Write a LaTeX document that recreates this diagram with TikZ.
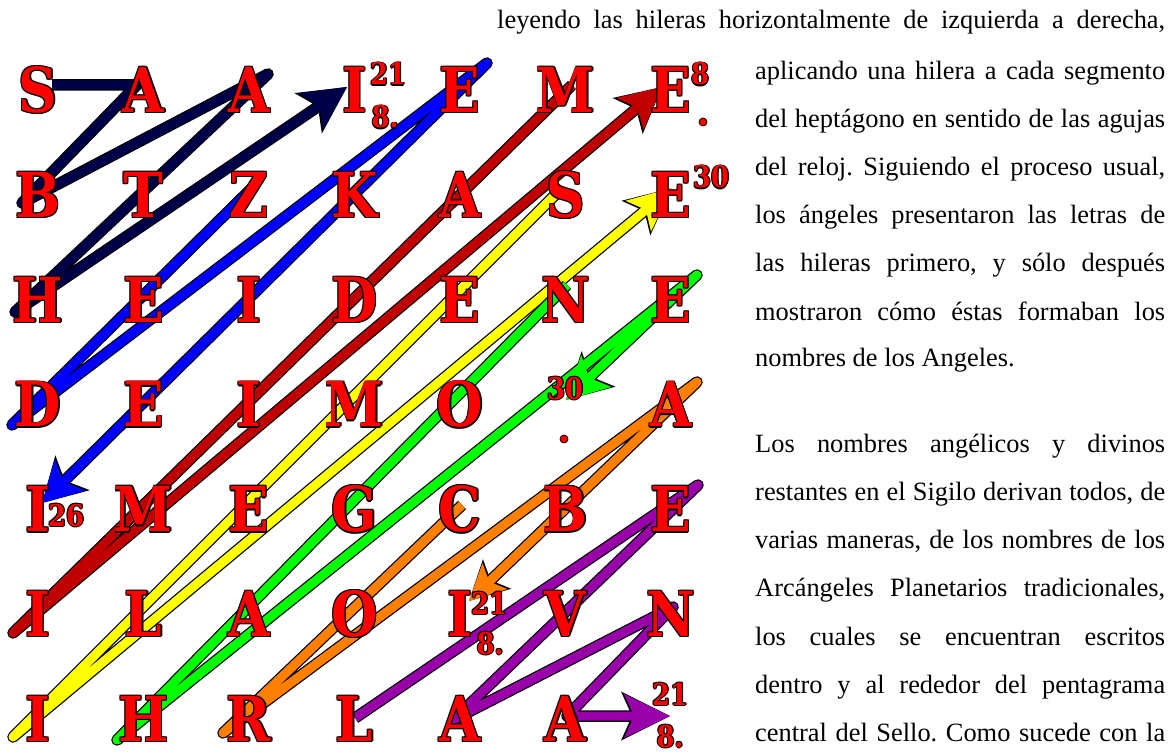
\documentclass[tikz,border=0pt]{standalone}
\usepackage{fontspec}
\setmainfont{Liberation Serif}
\newfontfamily\gridfont{DejaVu Serif}[FakeStretch=0.86]
\usetikzlibrary{arrows.meta}
\definecolor{cnavy}{RGB}{0,0,72}
\definecolor{cblue}{RGB}{0,0,255}
\definecolor{cred}{RGB}{192,0,0}
\definecolor{cyellow}{RGB}{255,255,0}
\definecolor{cgreen}{RGB}{0,255,0}
\definecolor{corange}{RGB}{255,128,0}
\definecolor{cpurple}{RGB}{153,0,170}
\newcommand\shadowcopy[3]{\rlap{\kern#1\raisebox{#2}{\color{black}#3}}}
\newcommand\redink[1]{\leavevmode
  \shadowcopy{-0.9pt}{0.9pt}{#1}\shadowcopy{0.9pt}{-0.9pt}{#1}%
  \shadowcopy{-0.9pt}{-0.9pt}{#1}\shadowcopy{0.9pt}{0.9pt}{#1}%
  \shadowcopy{1.3pt}{0pt}{#1}\shadowcopy{0pt}{-1.3pt}{#1}%
  \textcolor{red}{#1}}
\tikzset{
  glyph/.style={inner sep=0pt, text height=45pt, text depth=0pt, anchor=center,
    font=\gridfont\bfseries\fontsize{62}{62}\selectfont},
  digit/.style={inner sep=0pt, text height=22pt, text depth=0pt, anchor=center,
    font=\gridfont\bfseries\fontsize{30}{30}\selectfont},
  rim/.style={draw=black, line width=11.5pt, line join=round},
  band/.style={draw=#1, color=#1, line width=9pt, line join=round},
  txt/.style={anchor=base west, inner sep=0pt, font=\fontsize{26.4}{30}\selectfont},
  dotmark/.style={fill=red, draw=black, line width=0.8pt}
}
\frenchspacing
\begin{document}
\begin{tikzpicture}[x=1pt,y=-1pt]
\useasboundingbox (0,0) rectangle (1175,754);
\fill[white] (0,0) rectangle (1175,754);

% ---------- path vertices ----------
\coordinate (n1) at (52,85);  \coordinate (n2) at (137,85); \coordinate (n3) at (22,203);
\coordinate (n4) at (268,74); \coordinate (n5) at (15,312); \coordinate (n6) at (347,87);
\coordinate (b1) at (252,188); \coordinate (b2) at (12,425); \coordinate (b3) at (487,63); \coordinate (b4) at (42,503);
\coordinate (r1) at (572,85); \coordinate (r2) at (13,633); \coordinate (r3) at (662,87);
\coordinate (y1) at (557,193); \coordinate (y2) at (13,737); \coordinate (y3) at (672,188);
\coordinate (g1) at (567,285); \coordinate (g2) at (117,740); \coordinate (g3) at (697,275); \coordinate (g4) at (566,400);
\coordinate (o1) at (462,505); \coordinate (o2) at (223,733); \coordinate (o3) at (697,382); \coordinate (o4) at (469,601);
\coordinate (p1) at (355,718); \coordinate (p2) at (698,485); \coordinate (p3) at (453,720);
\coordinate (p4) at (673,607); \coordinate (p5) at (567,716); \coordinate (p6) at (670,716);

% ---------- navy ----------
\draw[rim,-{Stealth[length=47pt,width=49pt,inset=12pt,line width=0pt]}] (n1)--(n2)--(n3)--(n4)--(n5)--(n6);
\draw[band=cnavy,-{Stealth[length=44pt,width=44pt,inset=11pt,line width=0pt]}] (n1)--(n2)--(n3)--(n4)--(n5)--(n6);
% ---------- blue ----------
\draw[rim,-{Stealth[length=43pt,width=49pt,inset=11pt,line width=0pt]}] (b1)--(b2)--(b3)--(b4);
\draw[band=cblue,-{Stealth[length=40pt,width=44pt,inset=10pt,line width=0pt]}] (b1)--(b2)--(b3)--(b4);
% ---------- dark red ----------
\draw[rim,-{Stealth[length=45pt,width=47pt,inset=11pt,line width=0pt]}] (r1)--(r2)--(r3);
\draw[band=cred,-{Stealth[length=42pt,width=42pt,inset=10pt,line width=0pt]}] (r1)--(r2)--(r3);
% ---------- yellow ----------
\draw[rim,-{Stealth[length=47pt,width=45pt,inset=11pt,line width=0pt]}] (y1)--(y2)--(y3);
\draw[band=cyellow,-{Stealth[length=44pt,width=40pt,inset=10pt,line width=0pt]}] (y1)--(y2)--(y3);
% ---------- green ----------
\draw[rim,-{Stealth[length=45pt,width=49pt,inset=11pt,line width=0pt]}] (g1)--(g2)--(g3)--(g4);
\draw[band=cgreen,-{Stealth[length=42pt,width=44pt,inset=10pt,line width=0pt]}] (g1)--(g2)--(g3)--(g4);
% ---------- orange ----------
\draw[rim,-{Stealth[length=39pt,width=41pt,inset=9pt,line width=0pt]}] (o1)--(o2)--(o3)--(o4);
\draw[band=corange,-{Stealth[length=36pt,width=36pt,inset=8pt,line width=0pt]}] (o1)--(o2)--(o3)--(o4);
% ---------- purple ----------
\draw[rim,-{Stealth[length=49pt,width=49pt,inset=11pt,line width=0pt]}] (p1)--(p2)--(p3)--(p4)--(p5)--(p6);
\draw[band=cpurple,-{Stealth[length=46pt,width=44pt,inset=10pt,line width=0pt]}] (p1)--(p2)--(p3)--(p4)--(p5)--(p6);

% ---------- grid letters ----------
% row 1
\node[glyph] (L11) at (38,90) {\redink{S}};
\node[glyph] (L12) at (143.5,90) {\redink{A}};
\node[glyph] (L13) at (249,90) {\redink{A}};
\node[glyph] (L14) at (354.5,90) {\redink{I}};
\node[glyph] (L15) at (460,90) {\redink{E}};
\node[glyph] (L16) at (565.5,90) {\redink{M}};
\node[glyph] (L17) at (671,90) {\redink{E}};
% row 2
\node[glyph] (L21) at (38,194.8) {\redink{B}};
\node[glyph] (L22) at (143.5,194.8) {\redink{T}};
\node[glyph] (L23) at (249,194.8) {\redink{Z}};
\node[glyph] (L24) at (354.5,194.8) {\redink{K}};
\node[glyph] (L25) at (460,194.8) {\redink{A}};
\node[glyph] (L26) at (565.5,194.8) {\redink{S}};
\node[glyph] (L27) at (671,194.8) {\redink{E}};
% row 3
\node[glyph] (L31) at (38,299.6) {\redink{H}};
\node[glyph] (L32) at (143.5,299.6) {\redink{E}};
\node[glyph] (L33) at (249,299.6) {\redink{I}};
\node[glyph] (L34) at (354.5,299.6) {\redink{D}};
\node[glyph] (L35) at (460,299.6) {\redink{E}};
\node[glyph] (L36) at (565.5,299.6) {\redink{N}};
\node[glyph] (L37) at (671,299.6) {\redink{E}};
% row 4
\node[glyph] (L41) at (38,404.4) {\redink{D}};
\node[glyph] (L42) at (143.5,404.4) {\redink{E}};
\node[glyph] (L43) at (249,404.4) {\redink{I}};
\node[glyph] (L44) at (354.5,404.4) {\redink{M}};
\node[glyph] (L45) at (460,404.4) {\redink{O}};
\node[glyph] (L47) at (671,404.4) {\redink{A}};
% row 5
\node[glyph] (L51) at (38,509.2) {\redink{I}};
\node[glyph] (L52) at (143.5,509.2) {\redink{M}};
\node[glyph] (L53) at (249,509.2) {\redink{E}};
\node[glyph] (L54) at (354.5,509.2) {\redink{G}};
\node[glyph] (L55) at (460,509.2) {\redink{C}};
\node[glyph] (L56) at (565.5,509.2) {\redink{B}};
\node[glyph] (L57) at (671,509.2) {\redink{E}};
% row 6
\node[glyph] (L61) at (38,614) {\redink{I}};
\node[glyph] (L62) at (143.5,614) {\redink{L}};
\node[glyph] (L63) at (249,614) {\redink{A}};
\node[glyph] (L64) at (354.5,614) {\redink{O}};
\node[glyph] (L65) at (460,614) {\redink{I}};
\node[glyph] (L66) at (565.5,614) {\redink{V}};
\node[glyph] (L67) at (671,614) {\redink{N}};
% row 7
\node[glyph] (L71) at (38,718.8) {\redink{I}};
\node[glyph] (L72) at (143.5,718.8) {\redink{H}};
\node[glyph] (L73) at (249,718.8) {\redink{R}};
\node[glyph] (L74) at (354.5,718.8) {\redink{L}};
\node[glyph] (L75) at (460,718.8) {\redink{A}};
\node[glyph] (L76) at (565.5,718.8) {\redink{A}};

% ---------- numbers ----------
\node[digit] (d14a) at (388,74) {\redink{21}};
\node[digit] (d14b) at (385,117) {\redink{8.}};
\node[digit] (d17a) at (700,74) {\redink{8}};
\fill[dotmark] (703,122) circle (4);
\node[digit] (d27a) at (711,177) {\redink{30}};
\node[digit] (d46a) at (565,388) {\redink{30}};
\fill[dotmark] (564,439) circle (4);
\node[digit] (d51a) at (66,515) {\redink{26}};
\node[digit] (d65a) at (489,603) {\redink{21}};
\node[digit] (d65b) at (490,643) {\redink{8.}};
\node[digit] (d77a) at (670,694) {\redink{21}};
\node[digit] (d77b) at (670,736) {\redink{8.}};

% ---------- text ----------
\node[txt] (t0) at (497,28.3) {\makebox[668pt][s]{leyendo las hileras horizontalmente de izquierda a derecha,}};
\node[txt] (t1) at (755,80) {\makebox[410pt][s]{aplicando una hilera a cada segmento}};
\node[txt] (t2) at (755,128) {\makebox[410pt][s]{del heptágono en sentido de las agujas}};
\node[txt] (t3) at (755,175.7) {\makebox[410pt][s]{del reloj. Siguiendo el proceso usual,}};
\node[txt] (t4) at (755,223.3) {\makebox[410pt][s]{los ángeles presentaron las letras de}};
\node[txt] (t5) at (755,271.7) {\makebox[410pt][s]{las hileras primero, y sólo después}};
\node[txt] (t6) at (755,320) {\makebox[410pt][s]{mostraron cómo éstas formaban los}};
\node[txt] (t7) at (755,366.7) {nombres de los Angeles.};
\node[txt] (t8) at (755,452.7) {\makebox[410pt][s]{Los nombres angélicos y divinos}};
\node[txt] (t9) at (755,500.4) {\makebox[410pt][s]{restantes en el Sigilo derivan todos, de}};
\node[txt] (t10) at (755,548.6) {\makebox[410pt][s]{varias maneras, de los nombres de los}};
\node[txt] (t11) at (755,596.7) {\makebox[410pt][s]{Arcángeles Planetarios tradicionales,}};
\node[txt] (t12) at (755,645) {\makebox[410pt][s]{los cuales se encuentran escritos}};
\node[txt] (t13) at (755,693) {\makebox[410pt][s]{dentro y al rededor del pentagrama}};
\node[txt] (t14) at (755,741.5) {\makebox[410pt][s]{central del Sello. Como sucede con la}};
\end{tikzpicture}
\end{document}
